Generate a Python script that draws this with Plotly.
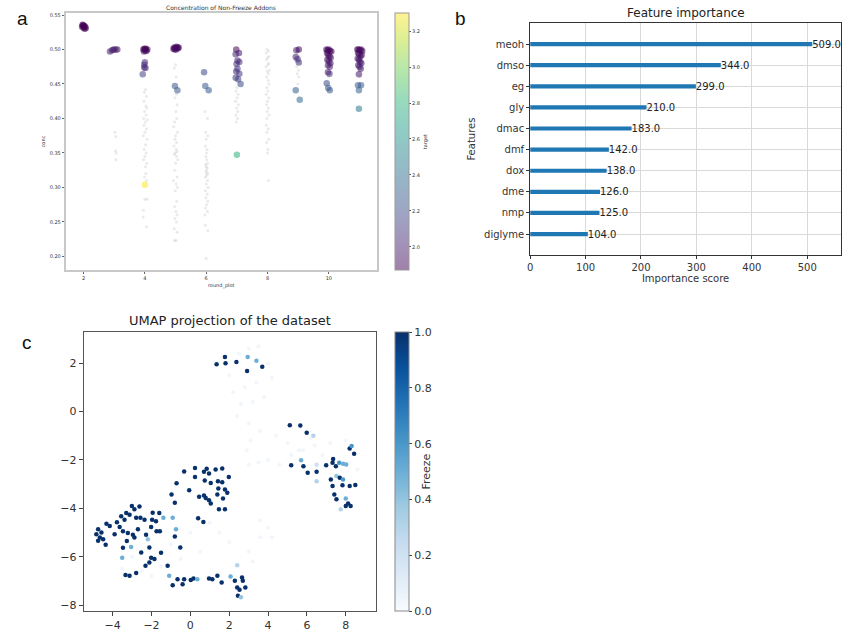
import plotly.graph_objects as go
import plotly.colors as pc

FONT = "DejaVu Sans"

# ---------------- Panel a data ----------------
col_x = [1.95, 1.98, 2.0, 2.02, 2.05, 2.07, 1.97, 2.03, 2.0,
         2.86, 2.93, 2.98, 3.04, 3.10,
         3.95, 3.98, 4.0, 4.02, 4.05, 4.08, 3.97, 4.03,
         4.0, 3.98, 3.98, 4.02, 3.93, 4.0,
         4.93, 4.96, 4.99, 5.02, 5.05, 5.08, 5.10, 4.97, 5.03, 4.98, 5.06,
         5.93, 5.97, 6.08,
         6.98, 7.07, 6.96, 7.02, 7.08, 6.99, 7.02, 6.98, 7.08, 6.96, 7.04, 7.12, 7.0,
         8.94, 9.02, 8.92, 8.98, 9.02, 8.92, 9.05,
         9.92, 9.96, 10.0, 10.04, 10.08, 9.94, 9.98, 10.02, 10.06, 9.95, 10.0, 10.05, 9.97, 10.03,
         9.97, 10.02, 9.93, 9.98, 10.03,
         10.93, 10.97, 11.01, 11.05, 11.09, 10.95, 10.99, 11.03, 11.07, 10.94, 10.98, 11.02,
         11.06, 10.96, 11.0, 11.04, 10.98, 10.95, 11.05, 10.98, 10.98]
col_y = [0.533, 0.535, 0.532, 0.534, 0.533, 0.531, 0.536, 0.530, 0.534,
         0.497, 0.499, 0.500, 0.500, 0.500,
         0.500, 0.501, 0.499, 0.500, 0.498, 0.500, 0.497, 0.501,
         0.4815, 0.478, 0.474, 0.473, 0.464, 0.304,
         0.501, 0.503, 0.502, 0.500, 0.503, 0.502, 0.503, 0.500, 0.504, 0.447, 0.441,
         0.467, 0.447, 0.441,
         0.500, 0.495, 0.493, 0.484, 0.482, 0.479, 0.472, 0.468, 0.465, 0.459, 0.457, 0.450, 0.3475,
         0.499, 0.500, 0.489, 0.486, 0.481, 0.441, 0.427,
         0.500, 0.499, 0.500, 0.498, 0.497, 0.495, 0.492, 0.490, 0.488, 0.485, 0.483, 0.480, 0.477, 0.475,
         0.467, 0.465, 0.451, 0.444, 0.441,
         0.500, 0.500, 0.499, 0.500, 0.498, 0.495, 0.493, 0.490, 0.492, 0.487, 0.485, 0.482,
         0.480, 0.477, 0.475, 0.472, 0.464, 0.448, 0.448, 0.441, 0.414]
col_t = [1.87, 1.88, 1.87, 1.88, 1.87, 1.88, 1.87, 1.88, 1.87,
         2.0, 2.0, 1.95, 2.0, 1.95,
         1.9, 1.88, 1.95, 1.9, 1.92, 1.9, 1.95, 1.88,
         2.05, 2.05, 2.0, 2.05, 2.15, 3.3,
         1.9, 1.88, 1.92, 1.9, 1.95, 1.9, 1.88, 1.92, 1.9, 2.25, 2.25,
         2.2, 2.25, 2.28,
         1.9, 1.95, 2.0, 2.0, 2.05, 2.05, 2.1, 2.05, 2.1, 2.1, 2.15, 2.2, 2.8,
         2.0, 1.9, 2.0, 2.05, 2.1, 2.3, 2.35,
         1.88, 1.88, 1.9, 1.9, 1.88, 1.9, 1.92, 1.9, 1.95, 1.92, 1.95, 1.95, 1.98, 2.0,
         1.95, 2.05, 2.2, 2.25, 2.25,
         1.88, 1.9, 1.88, 1.9, 1.92, 1.9, 1.92, 1.95, 1.9, 1.95, 1.92, 1.95,
         1.98, 1.95, 2.0, 2.0, 1.95, 2.25, 2.28, 2.3, 2.45]

gray_x_r3 = [3.02, 3.05, 3.04, 3.06, 3.05]
gray_y_r3 = [0.380, 0.374, 0.353, 0.350, 0.340]
gray_x_r4 = [4.02, 3.98, 4.05, 3.97, 4.03, 4.06, 3.99, 4.04, 3.96, 4.08, 4.01, 3.97, 4.05, 4.0, 3.95,
             4.07, 4.02, 3.98, 4.04, 4.0, 3.96, 4.06, 4.02, 4.03, 3.99, 4.05, 4.0, 4.07, 3.95, 3.94, 4.05]
gray_y_r4 = [0.442, 0.438, 0.432, 0.425, 0.418, 0.415, 0.410, 0.405, 0.400, 0.398, 0.395, 0.390, 0.385,
             0.380, 0.375, 0.370, 0.362, 0.355, 0.350, 0.345, 0.340, 0.335, 0.330, 0.320, 0.315, 0.310,
             0.283, 0.283, 0.267, 0.257, 0.243]
gray_x_r5 = [5.0, 4.96, 5.02, 5.03, 4.98, 5.05, 5.01, 5.04, 4.97, 4.94, 5.06, 5.0, 4.98, 5.03, 4.95,
             5.02, 5.05, 4.99, 4.96, 5.03, 5.07, 5.0, 4.97, 5.05, 4.93, 5.02, 5.06, 4.99, 5.04, 4.97,
             5.01, 5.05, 4.98, 5.03, 4.96, 5.05, 4.97, 5.02]
gray_y_r5 = [0.478, 0.473, 0.460, 0.435, 0.430, 0.420, 0.410, 0.400, 0.395, 0.388, 0.380, 0.375, 0.370,
             0.365, 0.360, 0.355, 0.352, 0.350, 0.348, 0.345, 0.340, 0.335, 0.325, 0.315, 0.310,
             0.305, 0.300, 0.295, 0.280, 0.272, 0.265, 0.260, 0.255, 0.250, 0.240, 0.235, 0.223, 0.223]
gray_x_r6 = [5.96, 6.04, 5.98, 6.05, 6.0, 5.97, 6.03, 6.01, 5.99, 6.02, 6.04, 5.98, 6.0, 6.03, 6.01,
             5.99, 6.05, 6.02, 5.98, 6.04, 6.0, 6.06, 5.97, 6.03, 5.99, 6.05, 6.01, 5.98, 6.04, 5.96,
             5.97, 6.05, 6.0]
gray_y_r6 = [0.410, 0.400, 0.380, 0.375, 0.370, 0.360, 0.355, 0.350, 0.345, 0.340, 0.335, 0.333, 0.330,
             0.328, 0.325, 0.322, 0.320, 0.318, 0.315, 0.310, 0.305, 0.300, 0.295, 0.290, 0.285,
             0.280, 0.275, 0.270, 0.265, 0.260, 0.245, 0.237, 0.197]
gray_x_r7 = [7.0, 6.97, 7.04, 7.01, 6.96, 7.05, 6.99, 7.03, 6.97, 7.02, 6.98, 7.04, 6.99, 7.03]
gray_y_r7 = [0.445, 0.440, 0.435, 0.430, 0.425, 0.420, 0.415, 0.410, 0.405, 0.400, 0.395, 0.480, 0.470, 0.460]
gray_x_r8 = [7.98, 8.03, 7.96, 8.05, 8.0, 7.97, 8.04, 8.01, 7.95, 8.06, 7.99, 8.03, 7.97, 8.02, 8.05,
             7.98, 8.01, 7.96, 8.04, 8.0, 7.97, 8.03, 7.99, 8.05, 7.98, 7.96, 8.02, 7.98, 8.04, 7.97,
             8.01, 8.0, 8.03]
gray_y_r8 = [0.500, 0.498, 0.495, 0.490, 0.488, 0.485, 0.480, 0.478, 0.475, 0.470, 0.468, 0.465, 0.460,
             0.455, 0.450, 0.445, 0.440, 0.435, 0.430, 0.425, 0.420, 0.415, 0.410, 0.405, 0.400,
             0.390, 0.385, 0.380, 0.370, 0.365, 0.355, 0.350, 0.310]
gray_x_r9 = [9.0, 8.96, 9.03, 8.98, 9.04, 8.95, 9.01, 8.97, 9.02, 8.99]
gray_y_r9 = [0.498, 0.495, 0.490, 0.485, 0.480, 0.475, 0.470, 0.465, 0.460, 0.450]
gray_x_r10 = [9.96, 10.04, 10.0, 9.98]
gray_y_r10 = [0.490, 0.485, 0.480, 0.460]
gray_x_r11 = [10.97, 11.03, 11.0, 11.02]
gray_y_r11 = [0.490, 0.485, 0.470, 0.460]

gray_x = gray_x_r3 + gray_x_r4 + gray_x_r5 + gray_x_r6 + gray_x_r7 + gray_x_r8 + gray_x_r9 + gray_x_r10 + gray_x_r11
gray_y = gray_y_r3 + gray_y_r4 + gray_y_r5 + gray_y_r6 + gray_y_r7 + gray_y_r8 + gray_y_r9 + gray_y_r10 + gray_y_r11

a_xticks = [2, 4, 6, 8, 10]
a_yticks = [0.20, 0.25, 0.30, 0.35, 0.40, 0.45, 0.50, 0.55]
a_cticks = [2.0, 2.2, 2.4, 2.6, 2.8, 3.0, 3.2]

# ---------------- Panel b data ----------------
features = ["diglyme", "nmp", "dme", "dox", "dmf", "dmac", "gly", "eg", "dmso", "meoh"]
importance = [104.0, 125.0, 126.0, 138.0, 142.0, 183.0, 210.0, 299.0, 344.0, 509.0]
b_xticks = [0, 100, 200, 300, 400, 500]

# ---------------- Panel c data ----------------
umap_x = [1.35, 1.78, 1.81, 2.37, 2.92, 2.95, 3.40, 3.70,
          5.12, 5.66, 5.99, 6.33, 5.19, 5.70, 5.82, 6.04, 6.50, 6.50, 6.99, 7.23, 7.35, 7.32, 7.49,
          7.66, 7.86, 8.20, 8.43, 8.30, 8.02, 7.52, 7.69, 7.86, 7.32, 7.83, 8.20, 8.49, 7.41, 7.52,
          8.00, 8.12, 8.25, 8.00, 7.74, 6.50,
          -0.32, 0.24, 0.24, 0.70, 0.84, 0.96, 1.30, 1.64, 1.98, 0.74, 1.05, 1.42, 1.64, 1.78, 1.44,
          -0.71, -0.06, 0.45, 0.70, 0.96, 0.79, 1.39, 1.68, 1.90, -0.97, -0.80, 1.05, 1.47, 1.78,
          0.40, 0.67, -0.80, -0.52, -0.74, -0.91,
          -4.75, -4.84, -4.66, -4.75, -4.58, -4.49, -4.36, -4.32, -4.15, -3.90, -3.78, -3.64, -3.56,
          -3.39, -3.30, -3.13, -3.01, -2.88, -2.62, -2.79, -2.57, -2.36, -2.70, -3.47, -3.22, -2.96,
          -3.47, -3.27, -3.05, -2.88, -2.53, -2.28, -2.19, -2.11, -2.31, -3.51, -1.94, -1.60, -1.97,
          -1.77, -2.02, -1.74, -1.57, -1.39, -1.51, -1.85, -2.02, -2.11, -3.34, -3.13, -2.79, -1.17,
          -1.09, -0.91, -0.40, -0.66, -0.32, 0.02, 0.16, 0.36, 0.96, 1.13, 1.39, 1.61, 2.07, 2.29,
          2.66, 2.70, 2.41, 2.53, 2.83, 2.45, 2.60, 2.41]
umap_y = [1.96, 2.25, 2.00, 2.05, 1.68, 2.25, 2.10, 1.85,
          -0.57, -0.58, -0.88, -1.00, -2.22, -2.01, -2.26, -2.53, -2.20, -2.49, -2.22, -2.81, -1.96,
          -2.12, -2.26, -2.12, -2.16, -1.53, -1.75, -1.43, -2.19, -2.67, -2.74, -2.81, -3.08, -3.05,
          -3.08, -3.04, -3.43, -3.63, -3.60, -3.80, -3.91, -3.91, -4.04, -2.88,
          -2.48, -2.33, -2.71, -2.49, -2.37, -2.56, -2.40, -2.35, -2.71, -2.85, -2.95, -2.88, -2.92,
          -3.22, -3.18, -2.97, -3.25, -3.52, -3.47, -3.67, -3.57, -3.43, -3.60, -3.36, -3.43, -3.77,
          -3.80, -4.04, -4.04, -4.41, -4.57, -5.17, -5.62, -4.87, -4.39,
          -4.87, -5.07, -5.21, -5.34, -5.00, -5.28, -5.51, -4.64, -4.73, -5.07, -4.58, -4.77, -4.33,
          -4.47, -4.20, -4.27, -3.91, -4.04, -3.93, -4.39, -4.39, -4.47, -4.87, -4.95, -5.02, -5.09,
          -5.63, -5.35, -5.60, -5.21, -5.83, -5.09, -5.28, -5.62, -6.38, -6.04, -4.18, -4.20, -4.47,
          -4.54, -4.77, -4.95, -4.95, -4.39, -5.84, -6.10, -6.04, -6.24, -6.76, -6.79, -6.68, -6.38,
          -6.79, -7.18, -7.14, -6.93, -6.93, -6.97, -6.90, -6.93, -6.90, -6.93, -6.79, -7.07, -6.82,
          -7.00, -6.86, -7.00, -7.27, -7.37, -7.27, -7.62, -7.68, -6.35]
umap_freeze = [1, 1, 1, 1, 1, 0.5, 0.5, 1,
               1, 1, 1, 0.3, 1, 0.5, 1, 1, 0.2, 1, 1, 1, 1, 1, 1,
               0.6, 0.5, 1, 1, 0.6, 0.5, 0.4, 1, 0.6, 1, 1, 1, 1, 1, 1,
               0.5, 1, 1, 1, 0.3, 0.3,
               1, 1, 1, 1, 1, 1, 1, 1, 1, 1, 1, 1, 1, 1, 1,
               1, 1, 1, 1, 1, 1, 1, 1, 1, 1, 1, 1, 1, 1,
               1, 1, 1, 1, 0.5, 0.5,
               1, 1, 1, 1, 1, 1, 1, 1, 1, 1, 1, 1, 1,
               1, 1, 1, 1, 1, 1, 1, 1, 1, 1, 1, 1, 1,
               1, 1, 0.5, 1, 1, 1, 0.4, 1, 1, 0.5, 1, 1, 1,
               1, 1, 1, 1, 0.5, 1, 1, 1, 1, 1, 1, 1, 1,
               0.5, 1, 1, 1, 1, 1, 1, 0.5, 1, 1, 1, 1, 0.5,
               1, 1, 1, 1, 1, 1, 1, 0.4, 0.3]

bg_x = [2.0, 2.5, 3.0, 3.5, 4.0, 2.2, 2.8, 3.4, 4.2, 2.6, 3.2, 3.8, 2.4, 3.0, 3.6, 3.1, 2.9,
        3.0, 3.5, 4.0, 4.6, 5.2, 5.8, 6.4, 6.8, 7.2, 8.0, 8.6, 4.4, 5.0, 5.6, 6.2, 3.6, 4.2,
        -3.5, -2.5, -1.5, -0.5, 0.5, 1.5, -3.0, -2.0, -1.0, 0.0, 1.0, 2.0, 3.0, 3.6, 4.0, 3.2]
bg_y = [1.5, 2.4, 2.6, 2.7, 2.0, 0.8, 1.0, 1.2, 1.4, 0.3, 0.4, 0.6, -0.2, -0.5, -0.8, -1.2, -1.6,
        -2.2, -2.1, -2.0, -2.2, -1.8, -1.6, -1.4, -1.8, -1.3, -1.2, -2.4, -1.0, -1.3, -1.6, -1.1, -4.5, -5.2,
        -6.5, -6.6, -6.4, -6.1, -5.8, -5.0, -6.0, -6.8, -5.5, -5.0, -4.6, -5.4, -5.8, -5.2, -4.8, -6.2]

c_xticks = [-4, -2, 0, 2, 4, 6, 8]
c_yticks = [-8, -6, -4, -2, 0, 2]
c_cticks = [0.0, 0.2, 0.4, 0.6, 0.8, 1.0]

# ---------------- layout geometry ----------------
W, H = 860, 639


def px(x):
    return x / W


def py(y):
    return 1 - y / H


# washed viridis for the colorbar (alpha 0.5 over white)
vir = pc.sequential.Viridis
washed = []
for i, c in enumerate(vir):
    r, g, b = pc.hex_to_rgb(c)
    washed.append([i / (len(vir) - 1),
                   "rgb(%d,%d,%d)" % ((r + 255) / 2, (g + 255) / 2, (b + 255) / 2)])

fig = go.Figure()

# Panel a
fig.add_trace(go.Scatter(x=gray_x, y=gray_y, mode="markers", xaxis="x", yaxis="y",
                         marker=dict(size=3, color="rgba(180,180,180,0.28)", line=dict(width=0)),
                         showlegend=False, hoverinfo="skip"))
fig.add_trace(go.Scatter(x=col_x, y=col_y, mode="markers", xaxis="x", yaxis="y",
                         marker=dict(size=6.5, color=col_t, colorscale="Viridis", cmin=1.87, cmax=3.30,
                                     opacity=0.55, line=dict(width=0), showscale=False),
                         showlegend=False))
fig.add_trace(go.Scatter(x=[None], y=[None], mode="markers", xaxis="x", yaxis="y",
                         marker=dict(size=1, color=[1.87], colorscale=washed, cmin=1.87, cmax=3.30,
                                     showscale=True,
                                     colorbar=dict(x=px(393), xanchor="left", xpad=0, ypad=0,
                                                   y=py(270), yanchor="bottom", len=(270 - 12) / H,
                                                   lenmode="fraction", thickness=14,
                                                   outlinewidth=1, outlinecolor="#999",
                                                   tickvals=a_cticks, ticktext=["%.1f" % v for v in a_cticks],
                                                   ticks="outside", ticklen=2, tickcolor="#555",
                                                   tickfont=dict(size=5, color="#333", family=FONT),
                                                   title=dict(text="target", side="right",
                                                              font=dict(size=5, color="#333", family=FONT)))),
                         showlegend=False, hoverinfo="skip"))

# Panel b
fig.add_trace(go.Bar(x=importance, y=list(range(len(features))), orientation="h", width=0.2,
                     xaxis="x2", yaxis="y2", marker=dict(color="#1f77b4", line=dict(width=0)),
                     text=["%.1f" % v for v in importance], textposition="outside",
                     constraintext="none", textangle=0,
                     textfont=dict(size=10, color="#222", family=FONT), cliponaxis=False,
                     showlegend=False))

# Panel c
fig.add_trace(go.Scatter(x=bg_x, y=bg_y, mode="markers", xaxis="x3", yaxis="y3",
                         marker=dict(size=4, color="rgba(225,236,249,0.45)", line=dict(width=0)),
                         showlegend=False, hoverinfo="skip"))
fig.add_trace(go.Scatter(x=umap_x, y=umap_y, mode="markers", xaxis="x3", yaxis="y3",
                         marker=dict(size=4.5, color=umap_freeze, colorscale="Blues", cmin=0, cmax=1,
                                     line=dict(width=0), showscale=True,
                                     colorbar=dict(x=px(393), xanchor="left", xpad=0, ypad=0,
                                                   y=py(612), yanchor="bottom", len=(612 - 332) / H,
                                                   lenmode="fraction", thickness=14,
                                                   outlinewidth=1, outlinecolor="#888",
                                                   tickvals=c_cticks, ticktext=["%.1f" % v for v in c_cticks],
                                                   ticks="outside", ticklen=3, tickcolor="#444",
                                                   tickfont=dict(size=11, color="#333", family=FONT),
                                                   title=dict(text="Freeze", side="right",
                                                              font=dict(size=11, color="#333", family=FONT)))),
                         showlegend=False))

frame_a = dict(showline=True, linecolor="#c8c8c8", linewidth=2, mirror=True, showgrid=False,
               zeroline=False, ticks="outside", ticklen=2, tickcolor="#666",
               tickfont=dict(size=5, color="#333", family=FONT))
frame_b = dict(showline=True, linecolor="#333", linewidth=1, mirror=True, showgrid=True,
               gridcolor="#d9d9d9", gridwidth=1, zeroline=False, ticks="outside", ticklen=3,
               tickcolor="#333", tickfont=dict(size=10, color="#333", family=FONT))
frame_c = dict(showline=True, linecolor="#555", linewidth=1.2, mirror=True, showgrid=False,
               zeroline=False, ticks="outside", ticklen=4, tickcolor="#444",
               tickfont=dict(size=11, color="#333", family=FONT))

fig.update_layout(
    width=W, height=H, autosize=False, margin=dict(l=0, r=0, t=0, b=0),
    paper_bgcolor="white", plot_bgcolor="white", font=dict(family=FONT),
    xaxis=dict(domain=[px(63), px(375)], range=[1.42, 11.56], tickvals=a_xticks,
               title=dict(text="round_plot", font=dict(size=5, color="#333"), standoff=3),
               anchor="y", **frame_a),
    yaxis=dict(domain=[py(270), py(12)], range=[0.18, 0.553], tickvals=a_yticks,
               ticktext=["%.2f" % v for v in a_yticks],
               title=dict(text="conc", font=dict(size=5, color="#333"), standoff=4),
               anchor="x", **frame_a),
    xaxis2=dict(domain=[px(529), px(841)], range=[0, 561], tickvals=b_xticks,
                title=dict(text="Importance score", font=dict(size=10, color="#333"), standoff=2),
                anchor="y2", **frame_b),
    yaxis2=dict(domain=[py(255), py(22)], range=[-1, 10], tickvals=list(range(len(features))),
                ticktext=features,
                title=dict(text="Features", font=dict(size=10, color="#333"), standoff=6),
                anchor="x2", **frame_b),
    xaxis3=dict(domain=[px(81), px(374)], range=[-5.49, 9.54], tickvals=c_xticks,
                anchor="y3", **frame_c),
    yaxis3=dict(domain=[py(612), py(332)], range=[-8.25, 3.29], tickvals=c_yticks,
                anchor="x3", **frame_c),
    annotations=[
        dict(text="Concentration of Non-Freeze Addons", x=px(219), y=py(7), xref="paper", yref="paper",
             xanchor="center", yanchor="middle",
             showarrow=False, font=dict(size=6, color="#333", family=FONT)),
        dict(text="Feature importance", x=px(685), y=py(12), xref="paper", yref="paper",
             xanchor="center", yanchor="middle",
             showarrow=False, font=dict(size=12, color="#222", family=FONT)),
        dict(text="UMAP projection of the dataset", x=px(228), y=py(321), xref="paper", yref="paper",
             xanchor="center", yanchor="middle",
             showarrow=False, font=dict(size=13, color="#222", family=FONT)),
        dict(text="a", x=px(20), y=py(18), xref="paper", yref="paper", showarrow=False,
             xanchor="center", yanchor="middle",
             font=dict(size=19, color="#111", family="Liberation Sans")),
        dict(text="b", x=px(459), y=py(18), xref="paper", yref="paper", showarrow=False,
             xanchor="center", yanchor="middle",
             font=dict(size=19, color="#111", family="Liberation Sans")),
        dict(text="c", x=px(24), y=py(343), xref="paper", yref="paper", showarrow=False,
             xanchor="center", yanchor="middle",
             font=dict(size=19, color="#111", family="Liberation Sans")),
    ],
)

fig.write_html("out.html")
